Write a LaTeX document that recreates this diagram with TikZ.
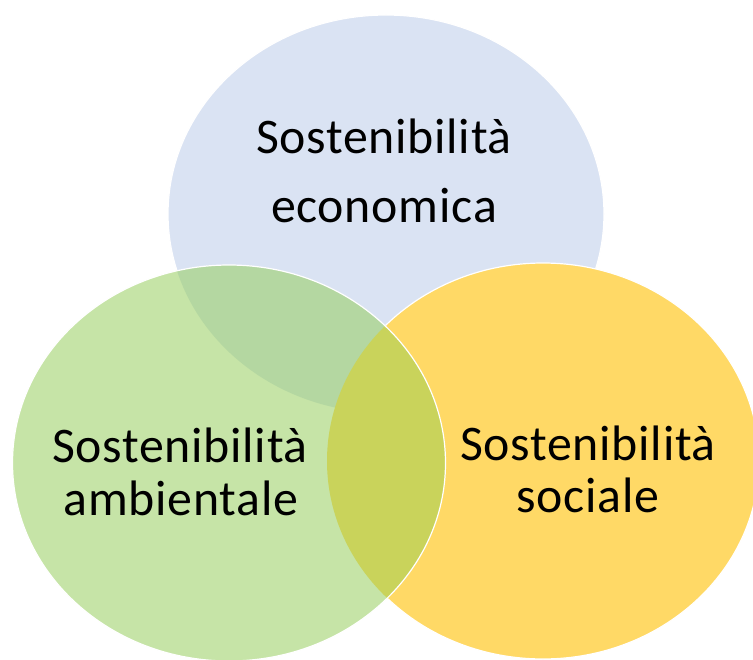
\documentclass[tikz,border=0pt]{standalone}
\usepackage{fontspec}
\setmainfont{Carlito}[LetterSpace=1.5]
\definecolor{ecoblue}{HTML}{DAE3F3}
\definecolor{envgreen}{HTML}{C6E4A7}
\definecolor{socyellow}{HTML}{FFD966}
\definecolor{greenblue}{HTML}{B4D7A1}
\definecolor{olive}{HTML}{C9D35B}
\begin{document}
\begin{tikzpicture}[x=1bp,y=-1bp,
  lbl/.style={anchor=base,inner sep=0pt,font=\fontsize{50}{60}\selectfont,text=black},
  rim/.style={draw=white,line width=1.2bp}]
\useasboundingbox (0,0) rectangle (753,660);
\fill[white] (0,0) rectangle (753,660);
\clip (0,0) rectangle (753,660);
% economic (top)
\fill[ecoblue] (386,214) ellipse [x radius=218,y radius=199];
\draw[rim] (386,214) ellipse [x radius=218,y radius=199];
% social (right)
\fill[socyellow] (543,461) ellipse [x radius=216,y radius=198];
\draw[rim] (543,461) ellipse [x radius=216,y radius=198];
% environmental (left)
\fill[envgreen] (229,463) ellipse [x radius=216.5,y radius=198];
\begin{scope}
  \clip (229,463) ellipse [x radius=216.5,y radius=198];
  \fill[greenblue] (386,214) ellipse [x radius=218,y radius=199];
  \fill[olive] (543,461) ellipse [x radius=216,y radius=198];
\end{scope}
\draw[rim] (229,463) ellipse [x radius=216.5,y radius=198];
% labels
\node[lbl] (eco1) at (384,153) {Sostenibilità};
\node[lbl] (eco2) at (384,222) {economica};
\node[lbl] (env1) at (180,462) {Sostenibilità};
\node[lbl] (env2) at (181,515) {ambientale};
\node[lbl] (soc1) at (588,460) {Sostenibilità};
\node[lbl] (soc2) at (588,512) {sociale};
\end{tikzpicture}
\end{document}
